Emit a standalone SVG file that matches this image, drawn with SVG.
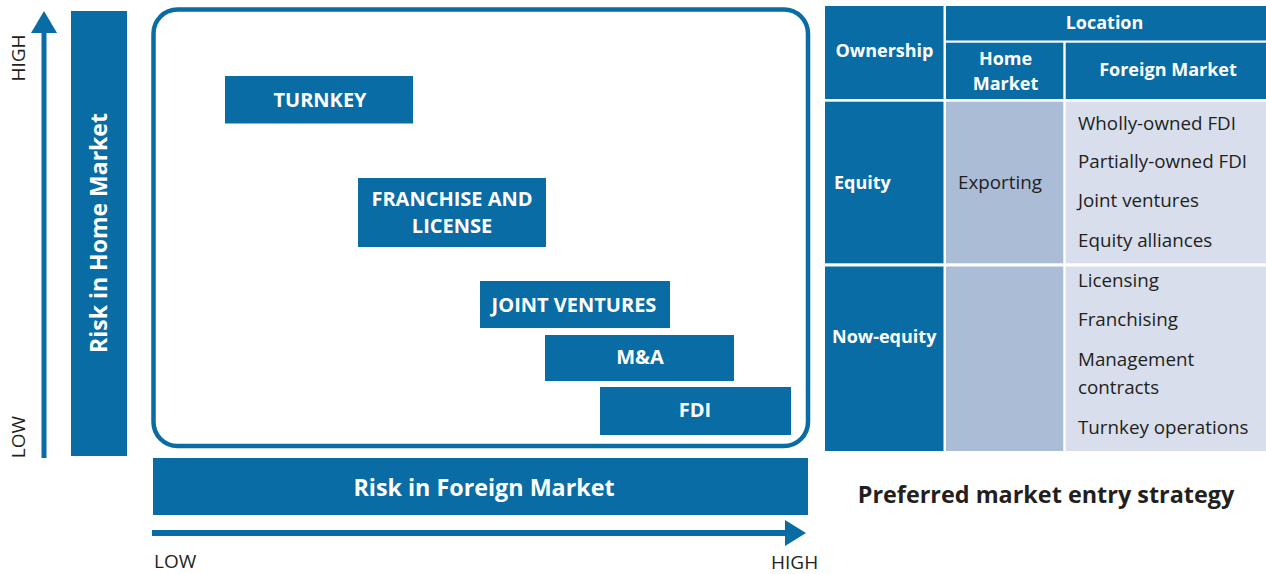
<svg xmlns="http://www.w3.org/2000/svg" width="1266" height="574" viewBox="0 0 1266 574">
<style>
.blue{fill:#0a6ca4}
.hm{fill:#abbcd6}
.fm{fill:#d8deec}
.bt{font-family:"Open Sans","Noto Sans",sans-serif;font-weight:700;fill:#fff}
.rt{font-family:"Open Sans","Noto Sans",sans-serif;font-weight:400;fill:#231f20}
.cap{font-family:"Open Sans","Noto Sans",sans-serif;font-weight:700;fill:#231f20;font-size:23.4px;text-anchor:middle}
.box{font-size:20px;text-anchor:middle}
.th{font-size:18px}
.td{font-size:18.8px}
.ax{font-size:19px;text-anchor:middle}
</style>
<rect width="1266" height="574" fill="#fff"/>
<g id="axes">
<line x1="44" y1="32" x2="44" y2="458" stroke="#0a6ca4" stroke-width="5"/>
<polygon points="31,33 44,11 57,33" class="blue"/>
<line x1="152" y1="533" x2="787" y2="533" stroke="#0a6ca4" stroke-width="6"/>
<polygon points="785,520 806,533 785,546" class="blue"/>
<text class="rt ax" transform="translate(25,58) rotate(-90)">HIGH</text>
<text class="rt ax" transform="translate(25,437) rotate(-90)">LOW</text>
<text class="rt" font-size="19" x="154" y="568">LOW</text>
<text class="rt" font-size="19" x="771" y="569">HIGH</text>
</g>
<g id="home-risk">
<rect x="71" y="11" width="56" height="445" class="blue"/>
<text class="bt" font-size="23" text-anchor="middle" transform="translate(107,233) rotate(-90)">Risk in Home Market</text>
</g>
<g id="foreign-risk">
<rect x="153" y="458" width="655" height="57" class="blue"/>
<text class="bt" font-size="23.3" text-anchor="middle" x="484" y="496">Risk in Foreign Market</text>
</g>
<g id="plot-frame">
<rect x="153.5" y="9.5" width="654.5" height="436.5" rx="24" fill="none" stroke="#0a6ca4" stroke-width="4.5"/>
</g>
<g id="turnkey">
<rect x="225" y="76" width="188" height="47.5" class="blue"/>
<text class="bt box" x="320" y="107">TURNKEY</text>
</g>
<g id="franchise">
<rect x="358" y="178" width="188" height="69" class="blue"/>
<text class="bt box" x="452" y="206">FRANCHISE AND</text>
<text class="bt box" x="452" y="233">LICENSE</text>
</g>
<g id="joint-ventures">
<rect x="480" y="281" width="190" height="47" class="blue"/>
<text class="bt box" x="574" y="312">JOINT VENTURES</text>
</g>
<g id="ma">
<rect x="545" y="335" width="189" height="46" class="blue"/>
<text class="bt box" x="640" y="364">M&amp;A</text>
</g>
<g id="fdi">
<rect x="600" y="387" width="191" height="48" class="blue"/>
<text class="bt box" x="695" y="417">FDI</text>
</g>
<g id="table">
<g id="ownership-header">
<rect x="825" y="6" width="118.5" height="93" class="blue"/>
<text class="bt th" x="884.5" y="57" text-anchor="middle">Ownership</text>
</g>
<g id="location-header">
<rect x="946" y="6" width="320" height="34.5" class="blue"/>
<text class="bt th" x="1104.5" y="29" text-anchor="middle">Location</text>
</g>
<g id="home-header">
<rect x="946" y="42.7" width="117.3" height="56.3" class="blue"/>
<text class="bt th" x="1005.5" y="65" text-anchor="middle">Home</text>
<text class="bt th" x="1005.5" y="90" text-anchor="middle">Market</text>
</g>
<g id="foreign-header">
<rect x="1065.7" y="42.7" width="200.3" height="56.3" class="blue"/>
<text class="bt th" x="1168" y="76" text-anchor="middle">Foreign Market</text>
</g>
<g id="equity-row">
<rect x="825" y="101.7" width="118.5" height="161.6" class="blue"/>
<text class="bt th" x="834" y="189">Equity</text>
<rect x="946" y="101.7" width="117.3" height="161.6" class="hm"/>
<text class="rt td" x="1000" y="189" text-anchor="middle">Exporting</text>
<rect x="1065.7" y="101.7" width="200.3" height="161.6" class="fm"/>
<text class="rt td" x="1078" y="130">Wholly-owned FDI</text>
<text class="rt td" x="1078" y="168">Partially-owned FDI</text>
<text class="rt td" x="1078" y="207">Joint ventures</text>
<text class="rt td" x="1078" y="247">Equity alliances</text>
</g>
<g id="nonequity-row">
<rect x="825" y="266.5" width="118.5" height="184.5" class="blue"/>
<text class="bt th" x="832" y="343">Now-equity</text>
<rect x="946" y="266.5" width="117.3" height="184.5" class="hm"/>
<rect x="1065.7" y="266.5" width="200.3" height="184.5" class="fm"/>
<text class="rt td" x="1078" y="287">Licensing</text>
<text class="rt td" x="1078" y="326">Franchising</text>
<text class="rt td" x="1078" y="366">Management</text>
<text class="rt td" x="1078" y="394">contracts</text>
<text class="rt td" x="1078" y="434">Turnkey operations</text>
</g>
</g>
<g id="caption">
<text class="cap" x="1046" y="503">Preferred market entry strategy</text>
</g>
</svg>
